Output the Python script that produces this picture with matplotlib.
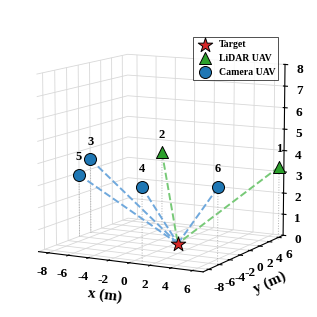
import numpy as np
import matplotlib
matplotlib.use("Agg")
import matplotlib.pyplot as plt

plt.rcParams['font.family'] = ['Liberation Serif', 'DejaVu Serif']
plt.rcParams['font.weight'] = 'bold'
plt.rcParams['axes.unicode_minus'] = False

# target on the ground
target = [0.2, -0.5, 0]
# UAV positions (x, y, z)
lidar_ids = ['1', '2']
lidar_x = [7.35, -4.8]
lidar_y = [5.2, 5.9]
lidar_z = [3.4, 3.5]
cam_ids = ['3', '4', '5', '6']
cam_x = [-8.8, 0.7, -9, 6.4]
cam_y = [-0.3, -8, -2, -5.1]
cam_z = [3.5, 3.3, 2.9, 3.3]

ticks = [-8, -6, -4, -2, 0, 2, 4, 6]

fig = plt.figure(figsize=(3.17, 3.17), dpi=100)
ax = fig.add_axes([-0.05, -0.06, 1.1, 1.1], projection='3d')
ax.set_box_aspect((1, 1, 0.97), zoom=0.87)
ax.view_init(elev=10, azim=-62)

for xs, ys, zs, c in [(lidar_x, lidar_y, lidar_z, '#77c977'), (cam_x, cam_y, cam_z, '#6fa8dc')]:
    for x, y, z in zip(xs, ys, zs):
        ax.plot([x, target[0]], [y, target[1]], [z, target[2]], '--', color=c, lw=1.4)
        ax.plot([x, x], [y, y], [0, z], ':', color='#b0b0b0', lw=0.7)

ax.scatter(*target, marker='*', s=120, c='#d62728', edgecolors='k', linewidths=0.7,
           depthshade=False, label='Target')
ax.scatter(lidar_x, lidar_y, lidar_z, marker='^', s=75, c='#2ca02c', edgecolors='k',
           linewidths=0.7, depthshade=False, label='LiDAR UAV')
ax.scatter(cam_x, cam_y, cam_z, marker='o', s=75, c='#1f77b4', edgecolors='k',
           linewidths=0.7, depthshade=False, label='Camera UAV')

for i, x, y, z in zip(lidar_ids + cam_ids, lidar_x + cam_x, lidar_y + cam_y, lidar_z + cam_z):
    ax.text(x, y, z + 0.55, i, ha='center', va='bottom', fontsize=9, fontweight='bold')

ax.set_xlim(-9, 7)
ax.set_ylim(-9, 7)
ax.set_zlim(0, 8)
ax.set_xticks(ticks)
ax.set_yticks(ticks)
ax.set_zticks(range(0, 9))
ax.tick_params(labelsize=9.5, pad=0)
ax.set_xlabel('x (m)', fontsize=11, fontweight='bold', labelpad=-1)
ax.set_ylabel('y (m)', fontsize=11, fontweight='bold', labelpad=-1)
ax.set_zlabel('z (m)', fontsize=11, fontweight='bold')

for a in (ax.xaxis, ax.yaxis, ax.zaxis):
    a.set_pane_color((1, 1, 1, 0))
    a._axinfo['grid']['color'] = '#d8d8d8'
    a._axinfo['grid']['linewidth'] = 0.6

leg = ax.legend(loc='upper left', fontsize=7, frameon=True, fancybox=False,
                edgecolor='k', borderpad=0.3, handletextpad=0.4,
                bbox_to_anchor=(0.592, 0.898), bbox_transform=fig.transFigure)
leg.get_frame().set_linewidth(0.6)

fig.savefig('out.png', dpi=100)
